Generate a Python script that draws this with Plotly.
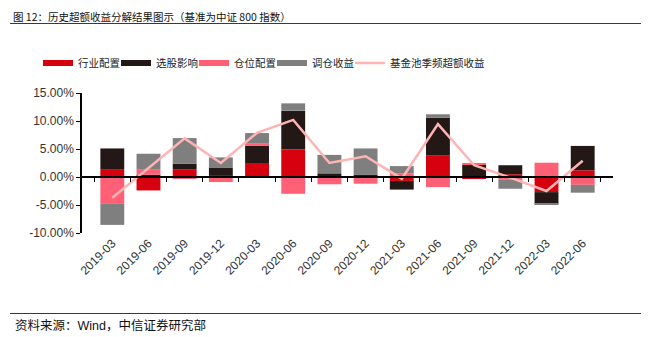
import plotly.graph_objects as go

categories = ["2019-03", "2019-06", "2019-09", "2019-12", "2020-03", "2020-06", "2020-09",
              "2020-12", "2021-03", "2021-06", "2021-09", "2021-12", "2022-03", "2022-06"]
industry = [1.3, -2.4, 1.4, 0.3, 2.5, 4.9, 0.05, 0.05, -0.7, 3.9, -0.35, 0.5, -2.7, 1.2]
stock = [3.8, 0.4, 0.95, 1.4, 3.05, 6.95, 0.6, 0.4, -1.55, 6.7, 2.15, 1.6, -2.1, 4.35]
position = [-4.8, 0.9, -0.3, -0.9, 0.4, -3.0, -1.3, -1.2, 0.6, -1.8, 0.25, -0.5, 2.55, -1.4]
rebalance = [-3.75, 2.85, 4.6, 1.8, 1.9, 1.3, 3.3, 4.65, 1.35, 0.6, 0.0, -1.6, -0.2, -1.4]
total = [-3.7, 1.6, 6.9, 2.5, 7.9, 10.2, 2.5, 3.7, -0.3, 9.45, 2.1, -0.1, -2.5, 2.9]
yticks = [-10, -5, 0, 5, 10, 15]

names = ["行业配置", "选股影响", "仓位配置", "调仓收益"]
colors = ["#d7000f", "#231815", "#ff6076", "#7f7f7f"]
line_name = "基金池季频超额收益"
line_color = "#ffb4b4"
series = [industry, stock, position, rebalance]

W, H = 649, 337
L, R, T, B = 82, 36, 93, 104
pw, ph = W - L - R, H - T - B

def px(x):
    return (x - L) / pw

def py(y):
    return (H - B - y) / ph

legend_ids = ["legend", "legend2", "legend3", "legend4", "legend5"]

fig = go.Figure()
for name, col, vals in zip(names, colors, series):
    fig.add_trace(go.Bar(x=categories, y=vals, name=name, marker=dict(color=col, line=dict(width=0)),
                         showlegend=False, legendgroup=name))
fig.add_trace(go.Scatter(x=categories, y=total, name=line_name, mode="lines",
                         line=dict(color=line_color, width=2.5), showlegend=False, legendgroup="line"))
# legend proxies
for i, (name, col) in enumerate(zip(names, colors)):
    fig.add_trace(go.Scatter(x=[None], y=[None], mode="lines", name=name,
                             line=dict(color=col, width=6), legendgroup=name, legend=legend_ids[i]))
fig.add_trace(go.Scatter(x=[None], y=[None], mode="lines", name=line_name,
                         line=dict(color=line_color, width=2.5), legendgroup="line", legend=legend_ids[4]))

font_fam = "Liberation Sans, Arial, Noto Sans CJK SC"
leg_font = dict(family="Noto Sans CJK SC", size=10.5, color="#222222")
legends = {}
for i, lid in enumerate(legend_ids):
    legends[lid] = dict(orientation="h", x=px(38 + 78 * i), xanchor="left", y=py(63), yanchor="middle",
                        font=leg_font, bgcolor="rgba(0,0,0,0)")

fig.update_layout(
    width=W, height=H,
    margin=dict(l=L, r=R, t=T, b=B),
    paper_bgcolor="white", plot_bgcolor="white",
    barmode="relative", bargap=0.34,
    font=dict(family=font_fam, color="#333333", size=12),
    xaxis=dict(type="category", showline=False, ticks="", showgrid=False, zeroline=False,
               tickangle=-45, tickfont=dict(size=12, color="#333333")),
    xaxis2=dict(type="category", overlaying="x", matches="x", anchor="free", position=0.4,
                showline=True, linecolor="black", linewidth=1.5, ticks="outside", ticklen=4,
                tickcolor="black", tickwidth=1.2, tickson="boundaries", showticklabels=False,
                showgrid=False, zeroline=False, side="bottom"),
    yaxis=dict(range=[-10, 15], tickvals=yticks, ticktext=[f"{v:.2f}%" for v in yticks],
               showline=True, linecolor="black", linewidth=1.5, ticks="outside", ticklen=4,
               tickcolor="black", showgrid=False, zeroline=False,
               tickfont=dict(size=12, color="#333333")),
    **legends,
)
# dummy trace so xaxis2 renders
fig.add_trace(go.Scatter(x=categories, y=[None] * len(categories), xaxis="x2", showlegend=False,
                         hoverinfo="skip"))

fig.add_annotation(text="图 12：历史超额收益分解结果图示（基准为中证 800 指数）", xref="paper", yref="paper",
                   x=px(11), y=py(16), xanchor="left", yanchor="middle", showarrow=False,
                   font=dict(family="Noto Sans CJK SC", size=10.5, color="#111111"))
fig.add_annotation(text="资料来源：Wind，中信证券研究部", xref="paper", yref="paper",
                   x=px(13), y=py(325), xanchor="left", yanchor="middle", showarrow=False,
                   font=dict(family="Liberation Sans, Noto Sans CJK SC", size=12.5, color="#111111"))
fig.add_shape(type="line", xref="paper", yref="paper", x0=px(10), x1=px(641), y0=py(23.5), y1=py(23.5),
              line=dict(color="#c00000", width=1))
fig.add_shape(type="line", xref="paper", yref="paper", x0=px(10), x1=px(641), y0=py(313.5), y1=py(313.5),
              line=dict(color="#c00000", width=1))

fig.write_html("out.html")
